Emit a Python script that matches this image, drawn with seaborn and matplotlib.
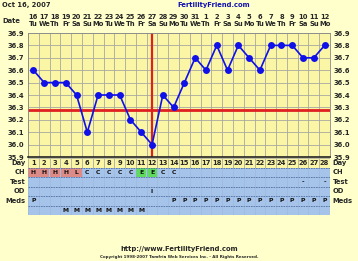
import matplotlib
matplotlib.use("Agg")
import matplotlib.pyplot as plt
import seaborn as sns
import pandas as pd
import numpy as np

days = list(range(1, 29))
temps = [36.6, 36.5, 36.5, 36.5, 36.4, 36.1, 36.4, 36.4, 36.4, 36.2, 36.1, 36.0, 36.4, 36.3,
         36.5, 36.7, 36.6, 36.8, 36.6, 36.8, 36.7, 36.6, 36.8, 36.8, 36.8, 36.7, 36.7, 36.8]
dates = ["16", "17", "18", "19", "20", "21", "22", "23", "24", "25", "26", "27", "28", "29",
         "30", "31", "1", "2", "3", "4", "5", "6", "7", "8", "9", "10", "11", "12"]
weekdays = ["Tu", "We", "Th", "Fr", "Sa", "Su", "Mo"] * 4
coverline = 36.28
ovulation_day = 12
ch = ["H", "H", "H", "H", "L", "C", "C", "C", "C", "C", "E", "E", "C", "C"] + [""] * 14
test = [""] * 25 + ["-", "", "-"]
od = [""] * 11 + ["I"] + [""] * 16
meds = ["P"] + [""] * 12 + ["P"] * 15
extra = [""] * 3 + ["M"] * 8 + [""] * 17
yticks = [35.9, 36.0, 36.1, 36.2, 36.3, 36.4, 36.5, 36.6, 36.7, 36.8, 36.9]

BG = "#FFFFCC"
PLOT_BG = "#FBF6A6"
BLUE_TBL = "#A6C3EA"
FS = 4.9
W, H = 358, 261

sns.set_theme(style="white")
plt.rcParams["font.family"] = ["DejaVu Sans"]
plt.rcParams["font.weight"] = "bold"

fig = plt.figure(figsize=(W / 100, H / 100), dpi=100, facecolor=BG)

def px_axes(x0, y0, x1, y1):
    return fig.add_axes([x0 / W, 1 - y1 / H, (x1 - x0) / W, (y1 - y0) / H])

# main chart
ax = px_axes(28, 33, 330, 157)
ax.set_facecolor(PLOT_BG)
df = pd.DataFrame({"day": days, "temp": temps})
ax.axhline(coverline, color="#E02020", lw=2, zorder=2)
ax.axvline(ovulation_day, color="#E02020", lw=1.6, zorder=2)
sns.lineplot(data=df, x="day", y="temp", ax=ax, color="#1010E8", lw=1.2,
             marker="o", markersize=5, markeredgewidth=0, zorder=3)
ax.set_xlim(0.5, 28.5)
ax.set_ylim(35.9, 36.9)
ax.set_yticks(yticks)
ax.set_yticklabels([f"{v:.1f}" for v in yticks], fontsize=FS, fontweight="bold")
ax.set_xticks(days)
ax.set_xticklabels([f"{d}\n{w}" for d, w in zip(dates, weekdays)], fontsize=FS,
                   fontweight="bold", linespacing=1.25)
ax.set_xticks(np.arange(0.5, 29, 1), minor=True)
ax.tick_params(axis="x", which="both", top=False, bottom=False, labeltop=True,
               labelbottom=False, length=0, pad=4)
ax.tick_params(axis="y", left=False, right=False, labelleft=True, labelright=True,
               length=0, pad=2.5)
ax.grid(True, which="minor", axis="x", color="#A8A8A0", lw=0.6)
ax.grid(True, which="major", axis="y", color="#A8A8A0", lw=0.6)
ax.set_xlabel("")
ax.set_ylabel("")
for s in ax.spines.values():
    s.set_color("#888888")
    s.set_linewidth(0.6)
ax.spines["bottom"].set_color("#222222")
ax.spines["bottom"].set_linewidth(1.2)

fig.text(2 / W, 1 - 21 / H, "Date", fontsize=FS, fontweight="bold", va="center", ha="left")
fig.text(2 / W, 1 - 5 / H, "Oct 16, 2007", fontsize=FS, fontweight="bold", va="center",
         ha="left")
fig.text(214 / W, 1 - 5 / H, "FertilityFriend.com", fontsize=FS, fontweight="bold",
         va="center", ha="center", color="#1010B0")

# table
tx = px_axes(28, 158, 330, 215)
rows = ["Day", "CH", "Test", "OD", "Meds", ""]
nrows = len(rows)
tx.set_xlim(0.5, 28.5)
tx.set_ylim(nrows, 0)
tx.axis("off")
tx.bar(days, [1] * 28, bottom=0, width=1.0, color=PLOT_BG, edgecolor="#B0B0A0", lw=0.6)
for r in range(1, nrows):
    tx.bar(days, [1] * 28, bottom=r, width=1.0, color=BLUE_TBL, edgecolor="none")
    tx.axhline(r, color="#5070A0", lw=0.6, ls=(0, (2, 1)))
tx.axhline(nrows, color="#5070A0", lw=0.6)
for x in np.arange(0.5, 29, 1):
    tx.plot([x, x], [1, nrows], color="#8FA8D0", lw=0.4, ls=(0, (1, 1)))
ch_colors = {"H": "#E08A86", "L": "#E08A86", "E": "#5FDC5F"}
for d, c in zip(days, ch):
    if c in ch_colors:
        tx.bar(d, 0.9, bottom=1.05, width=0.95, color=ch_colors[c], edgecolor="none")
for d in days:
    tx.text(d, 0.5, str(d), ha="center", va="center", fontsize=FS, fontweight="bold")
for r, vals in [(1, ch), (2, test), (3, od), (4, meds), (5, extra)]:
    for d, v in zip(days, vals):
        if v:
            tx.text(d, r + 0.5, v, ha="center", va="center", fontsize=FS - 0.5,
                    fontweight="bold", color="#111111")
for r, name in enumerate(rows):
    if name:
        tx.text(0.25, r + 0.5, name, ha="right", va="center", fontsize=FS, fontweight="bold")
        tx.text(28.75, r + 0.5, name, ha="left", va="center", fontsize=FS, fontweight="bold")

fig.text(0.5, 1 - 249 / H, "http://www.FertilityFriend.com", fontsize=FS, fontweight="bold",
         ha="center", va="center")
fig.text(0.5, 1 - 257 / H, "Copyright 1998-2007 Tamfria Web Services Inc. - All Rights Reserved.",
         fontsize=2.9, ha="center", va="center")

fig.savefig("out.png", dpi=100, facecolor=BG)
